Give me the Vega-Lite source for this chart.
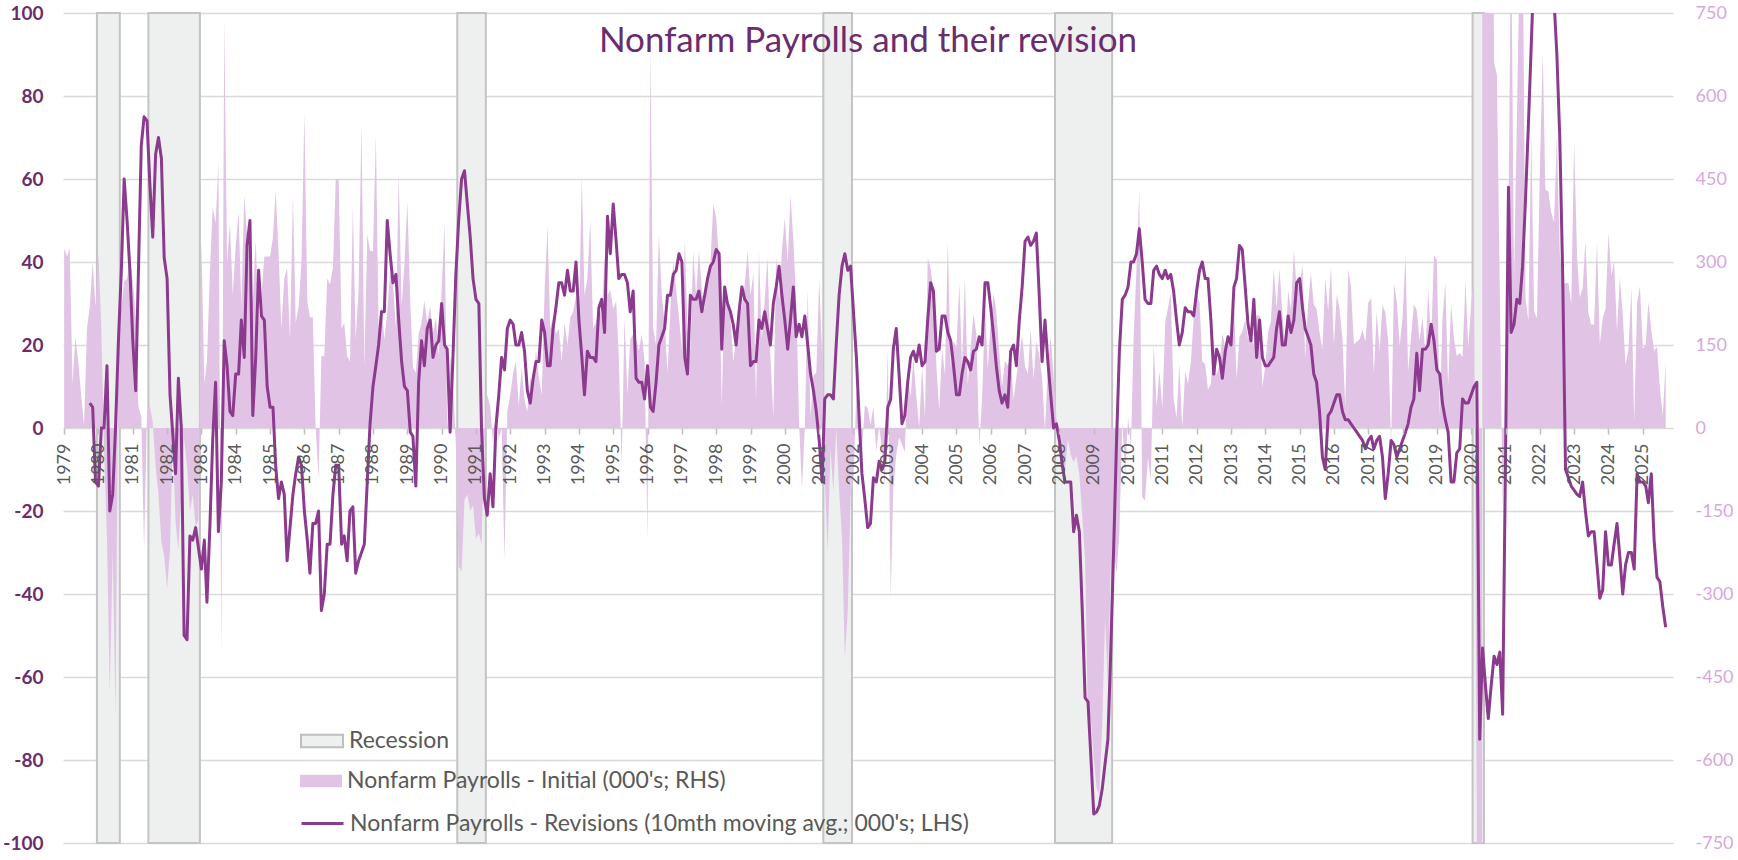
{
  "$schema": "https://vega.github.io/schema/vega-lite/v6.json",
  "width": 1610,
  "height": 830,
  "autosize": {"type": "none"},
  "padding": {"left": 63, "top": 13, "right": 65, "bottom": 17},
  "background": "white",
  "datasets": {
    "recessions": [
      {"start": "1979-12-16", "end": "1980-08-16"},
      {"start": "1981-06-16", "end": "1982-12-16"},
      {"start": "1990-06-16", "end": "1991-04-16"},
      {"start": "2001-02-14", "end": "2001-12-16"},
      {"start": "2007-11-16", "end": "2009-07-16"},
      {"start": "2020-01-16", "end": "2020-05-16"}
    ],
    "titles": [
      {"label": "Nonfarm Payrolls and their revision"}
    ],
    "nfp": [
      {"date":"1979-01-01","initial":325,"revision":null},
      {"date":"1979-02-01","initial":310,"revision":null},
      {"date":"1979-03-01","initial":325,"revision":null},
      {"date":"1979-04-01","initial":80,"revision":null},
      {"date":"1979-05-01","initial":165,"revision":null},
      {"date":"1979-06-01","initial":120,"revision":null},
      {"date":"1979-07-01","initial":60,"revision":null},
      {"date":"1979-08-01","initial":5,"revision":null},
      {"date":"1979-09-01","initial":180,"revision":null},
      {"date":"1979-10-01","initial":220,"revision":6},
      {"date":"1979-11-01","initial":300,"revision":5},
      {"date":"1979-12-01","initial":220,"revision":-13},
      {"date":"1980-01-01","initial":315,"revision":-14},
      {"date":"1980-02-01","initial":180,"revision":0},
      {"date":"1980-03-01","initial":-40,"revision":0},
      {"date":"1980-04-01","initial":-200,"revision":15},
      {"date":"1980-05-01","initial":-480,"revision":-20},
      {"date":"1980-06-01","initial":-220,"revision":-16},
      {"date":"1980-07-01","initial":-520,"revision":0},
      {"date":"1980-08-01","initial":160,"revision":21},
      {"date":"1980-09-01","initial":220,"revision":38},
      {"date":"1980-10-01","initial":265,"revision":60},
      {"date":"1980-11-01","initial":270,"revision":50},
      {"date":"1980-12-01","initial":310,"revision":38},
      {"date":"1981-01-01","initial":265,"revision":21},
      {"date":"1981-02-01","initial":200,"revision":9},
      {"date":"1981-03-01","initial":40,"revision":37},
      {"date":"1981-04-01","initial":20,"revision":68},
      {"date":"1981-05-01","initial":-220,"revision":75},
      {"date":"1981-06-01","initial":30,"revision":74},
      {"date":"1981-07-01","initial":40,"revision":59},
      {"date":"1981-08-01","initial":10,"revision":46},
      {"date":"1981-09-01","initial":-70,"revision":66},
      {"date":"1981-10-01","initial":-120,"revision":70},
      {"date":"1981-11-01","initial":-205,"revision":65},
      {"date":"1981-12-01","initial":-230,"revision":41},
      {"date":"1982-01-01","initial":-290,"revision":36},
      {"date":"1982-02-01","initial":-220,"revision":8},
      {"date":"1982-03-01","initial":-20,"revision":-1},
      {"date":"1982-04-01","initial":-170,"revision":-11},
      {"date":"1982-05-01","initial":-220,"revision":12},
      {"date":"1982-06-01","initial":-120,"revision":0},
      {"date":"1982-07-01","initial":-20,"revision":-50},
      {"date":"1982-08-01","initial":-70,"revision":-51},
      {"date":"1982-09-01","initial":-150,"revision":-26},
      {"date":"1982-10-01","initial":-120,"revision":-27},
      {"date":"1982-11-01","initial":-180,"revision":-24},
      {"date":"1982-12-01","initial":-165,"revision":-29},
      {"date":"1983-01-01","initial":340,"revision":-34},
      {"date":"1983-02-01","initial":80,"revision":-27},
      {"date":"1983-03-01","initial":120,"revision":-42},
      {"date":"1983-04-01","initial":280,"revision":-24},
      {"date":"1983-05-01","initial":400,"revision":-3},
      {"date":"1983-06-01","initial":370,"revision":11},
      {"date":"1983-07-01","initial":480,"revision":-25},
      {"date":"1983-08-01","initial":-415,"revision":-13},
      {"date":"1983-09-01","initial":740,"revision":21},
      {"date":"1983-10-01","initial":300,"revision":15},
      {"date":"1983-11-01","initial":370,"revision":4},
      {"date":"1983-12-01","initial":240,"revision":3},
      {"date":"1984-01-01","initial":330,"revision":13},
      {"date":"1984-02-01","initial":390,"revision":13},
      {"date":"1984-03-01","initial":220,"revision":26},
      {"date":"1984-04-01","initial":420,"revision":17},
      {"date":"1984-05-01","initial":350,"revision":44},
      {"date":"1984-06-01","initial":280,"revision":50},
      {"date":"1984-07-01","initial":230,"revision":3},
      {"date":"1984-08-01","initial":340,"revision":17},
      {"date":"1984-09-01","initial":190,"revision":38},
      {"date":"1984-10-01","initial":240,"revision":27},
      {"date":"1984-11-01","initial":310,"revision":26},
      {"date":"1984-12-01","initial":310,"revision":10},
      {"date":"1985-01-01","initial":310,"revision":5},
      {"date":"1985-02-01","initial":345,"revision":5},
      {"date":"1985-03-01","initial":430,"revision":-9},
      {"date":"1985-04-01","initial":320,"revision":-17},
      {"date":"1985-05-01","initial":180,"revision":-13},
      {"date":"1985-06-01","initial":270,"revision":-16},
      {"date":"1985-07-01","initial":290,"revision":-32},
      {"date":"1985-08-01","initial":160,"revision":-24},
      {"date":"1985-09-01","initial":420,"revision":-16},
      {"date":"1985-10-01","initial":190,"revision":-11},
      {"date":"1985-11-01","initial":220,"revision":-7},
      {"date":"1985-12-01","initial":300,"revision":-9},
      {"date":"1986-01-01","initial":570,"revision":-20},
      {"date":"1986-02-01","initial":230,"revision":-27},
      {"date":"1986-03-01","initial":200,"revision":-35},
      {"date":"1986-04-01","initial":200,"revision":-23},
      {"date":"1986-05-01","initial":0,"revision":-23},
      {"date":"1986-06-01","initial":-90,"revision":-20},
      {"date":"1986-07-01","initial":130,"revision":-44},
      {"date":"1986-08-01","initial":130,"revision":-40},
      {"date":"1986-09-01","initial":270,"revision":-28},
      {"date":"1986-10-01","initial":260,"revision":-28},
      {"date":"1986-11-01","initial":290,"revision":-16},
      {"date":"1986-12-01","initial":450,"revision":-9},
      {"date":"1987-01-01","initial":450,"revision":-9},
      {"date":"1987-02-01","initial":180,"revision":-28},
      {"date":"1987-03-01","initial":190,"revision":-26},
      {"date":"1987-04-01","initial":130,"revision":-32},
      {"date":"1987-05-01","initial":120,"revision":-20},
      {"date":"1987-06-01","initial":400,"revision":-19},
      {"date":"1987-07-01","initial":160,"revision":-35},
      {"date":"1987-08-01","initial":250,"revision":-32},
      {"date":"1987-09-01","initial":550,"revision":-30},
      {"date":"1987-10-01","initial":110,"revision":-28},
      {"date":"1987-11-01","initial":350,"revision":-13},
      {"date":"1987-12-01","initial":320,"revision":1},
      {"date":"1988-01-01","initial":320,"revision":10},
      {"date":"1988-02-01","initial":530,"revision":15},
      {"date":"1988-03-01","initial":180,"revision":20},
      {"date":"1988-04-01","initial":220,"revision":28},
      {"date":"1988-05-01","initial":160,"revision":28},
      {"date":"1988-06-01","initial":210,"revision":50},
      {"date":"1988-07-01","initial":280,"revision":42},
      {"date":"1988-08-01","initial":260,"revision":35},
      {"date":"1988-09-01","initial":180,"revision":37},
      {"date":"1988-10-01","initial":460,"revision":26},
      {"date":"1988-11-01","initial":220,"revision":16},
      {"date":"1988-12-01","initial":300,"revision":10},
      {"date":"1989-01-01","initial":410,"revision":9},
      {"date":"1989-02-01","initial":230,"revision":-1},
      {"date":"1989-03-01","initial":110,"revision":-2},
      {"date":"1989-04-01","initial":100,"revision":-14},
      {"date":"1989-05-01","initial":170,"revision":11},
      {"date":"1989-06-01","initial":190,"revision":21},
      {"date":"1989-07-01","initial":230,"revision":15},
      {"date":"1989-08-01","initial":190,"revision":24},
      {"date":"1989-09-01","initial":220,"revision":26},
      {"date":"1989-10-01","initial":170,"revision":17},
      {"date":"1989-11-01","initial":200,"revision":20},
      {"date":"1989-12-01","initial":130,"revision":21},
      {"date":"1990-01-01","initial":250,"revision":30},
      {"date":"1990-02-01","initial":370,"revision":20},
      {"date":"1990-03-01","initial":0,"revision":19},
      {"date":"1990-04-01","initial":130,"revision":-1},
      {"date":"1990-05-01","initial":80,"revision":17},
      {"date":"1990-06-01","initial":-30,"revision":37},
      {"date":"1990-07-01","initial":-250,"revision":50},
      {"date":"1990-08-01","initial":-260,"revision":60},
      {"date":"1990-09-01","initial":-130,"revision":62},
      {"date":"1990-10-01","initial":-120,"revision":54},
      {"date":"1990-11-01","initial":-150,"revision":46},
      {"date":"1990-12-01","initial":-140,"revision":36},
      {"date":"1991-01-01","initial":-200,"revision":31},
      {"date":"1991-02-01","initial":-190,"revision":30},
      {"date":"1991-03-01","initial":-210,"revision":0},
      {"date":"1991-04-01","initial":-30,"revision":-17},
      {"date":"1991-05-01","initial":60,"revision":-21},
      {"date":"1991-06-01","initial":40,"revision":-11},
      {"date":"1991-07-01","initial":-30,"revision":-19},
      {"date":"1991-08-01","initial":30,"revision":0},
      {"date":"1991-09-01","initial":-20,"revision":8},
      {"date":"1991-10-01","initial":0,"revision":17},
      {"date":"1991-11-01","initial":-240,"revision":14},
      {"date":"1991-12-01","initial":30,"revision":24},
      {"date":"1992-01-01","initial":60,"revision":26},
      {"date":"1992-02-01","initial":100,"revision":25},
      {"date":"1992-03-01","initial":120,"revision":20},
      {"date":"1992-04-01","initial":40,"revision":20},
      {"date":"1992-05-01","initial":110,"revision":23},
      {"date":"1992-06-01","initial":50,"revision":18.5},
      {"date":"1992-07-01","initial":30,"revision":9},
      {"date":"1992-08-01","initial":90,"revision":6},
      {"date":"1992-09-01","initial":80,"revision":12},
      {"date":"1992-10-01","initial":140,"revision":16},
      {"date":"1992-11-01","initial":90,"revision":16},
      {"date":"1992-12-01","initial":60,"revision":26},
      {"date":"1993-01-01","initial":250,"revision":23},
      {"date":"1993-02-01","initial":365,"revision":15},
      {"date":"1993-03-01","initial":180,"revision":15},
      {"date":"1993-04-01","initial":200,"revision":24},
      {"date":"1993-05-01","initial":170,"revision":29},
      {"date":"1993-06-01","initial":180,"revision":35},
      {"date":"1993-07-01","initial":120,"revision":35},
      {"date":"1993-08-01","initial":190,"revision":32},
      {"date":"1993-09-01","initial":150,"revision":38},
      {"date":"1993-10-01","initial":200,"revision":33},
      {"date":"1993-11-01","initial":210,"revision":33},
      {"date":"1993-12-01","initial":240,"revision":40},
      {"date":"1994-01-01","initial":190,"revision":26},
      {"date":"1994-02-01","initial":455,"revision":17},
      {"date":"1994-03-01","initial":240,"revision":8},
      {"date":"1994-04-01","initial":270,"revision":18.5},
      {"date":"1994-05-01","initial":375,"revision":17},
      {"date":"1994-06-01","initial":180,"revision":17},
      {"date":"1994-07-01","initial":190,"revision":16},
      {"date":"1994-08-01","initial":220,"revision":29},
      {"date":"1994-09-01","initial":200,"revision":31},
      {"date":"1994-10-01","initial":310,"revision":23},
      {"date":"1994-11-01","initial":240,"revision":51},
      {"date":"1994-12-01","initial":250,"revision":42},
      {"date":"1995-01-01","initial":215,"revision":54},
      {"date":"1995-02-01","initial":230,"revision":45},
      {"date":"1995-03-01","initial":130,"revision":36},
      {"date":"1995-04-01","initial":-70,"revision":37},
      {"date":"1995-05-01","initial":200,"revision":37},
      {"date":"1995-06-01","initial":60,"revision":35},
      {"date":"1995-07-01","initial":160,"revision":28},
      {"date":"1995-08-01","initial":170,"revision":33},
      {"date":"1995-09-01","initial":160,"revision":12},
      {"date":"1995-10-01","initial":140,"revision":11},
      {"date":"1995-11-01","initial":170,"revision":11},
      {"date":"1995-12-01","initial":120,"revision":7},
      {"date":"1996-01-01","initial":-205,"revision":15},
      {"date":"1996-02-01","initial":690,"revision":5},
      {"date":"1996-03-01","initial":180,"revision":4},
      {"date":"1996-04-01","initial":150,"revision":11},
      {"date":"1996-05-01","initial":350,"revision":20},
      {"date":"1996-06-01","initial":240,"revision":22},
      {"date":"1996-07-01","initial":190,"revision":24},
      {"date":"1996-08-01","initial":100,"revision":32},
      {"date":"1996-09-01","initial":220,"revision":32},
      {"date":"1996-10-01","initial":300,"revision":37},
      {"date":"1996-11-01","initial":250,"revision":38},
      {"date":"1996-12-01","initial":200,"revision":42},
      {"date":"1997-01-01","initial":140,"revision":40},
      {"date":"1997-02-01","initial":340,"revision":17},
      {"date":"1997-03-01","initial":180,"revision":13},
      {"date":"1997-04-01","initial":140,"revision":32},
      {"date":"1997-05-01","initial":320,"revision":31},
      {"date":"1997-06-01","initial":240,"revision":31},
      {"date":"1997-07-01","initial":320,"revision":33},
      {"date":"1997-08-01","initial":250,"revision":28},
      {"date":"1997-09-01","initial":215,"revision":32},
      {"date":"1997-10-01","initial":280,"revision":36},
      {"date":"1997-11-01","initial":300,"revision":39},
      {"date":"1997-12-01","initial":405,"revision":40},
      {"date":"1998-01-01","initial":380,"revision":43},
      {"date":"1998-02-01","initial":300,"revision":42},
      {"date":"1998-03-01","initial":40,"revision":19},
      {"date":"1998-04-01","initial":260,"revision":34},
      {"date":"1998-05-01","initial":220,"revision":30},
      {"date":"1998-06-01","initial":200,"revision":28},
      {"date":"1998-07-01","initial":120,"revision":25},
      {"date":"1998-08-01","initial":160,"revision":20},
      {"date":"1998-09-01","initial":200,"revision":28},
      {"date":"1998-10-01","initial":220,"revision":34},
      {"date":"1998-11-01","initial":260,"revision":31},
      {"date":"1998-12-01","initial":320,"revision":30},
      {"date":"1999-01-01","initial":240,"revision":15},
      {"date":"1999-02-01","initial":280,"revision":16},
      {"date":"1999-03-01","initial":50,"revision":16},
      {"date":"1999-04-01","initial":320,"revision":26},
      {"date":"1999-05-01","initial":160,"revision":24},
      {"date":"1999-06-01","initial":230,"revision":28},
      {"date":"1999-07-01","initial":310,"revision":24},
      {"date":"1999-08-01","initial":130,"revision":20},
      {"date":"1999-09-01","initial":20,"revision":30},
      {"date":"1999-10-01","initial":310,"revision":34},
      {"date":"1999-11-01","initial":230,"revision":39},
      {"date":"1999-12-01","initial":320,"revision":32},
      {"date":"2000-01-01","initial":380,"revision":26},
      {"date":"2000-02-01","initial":300,"revision":19},
      {"date":"2000-03-01","initial":420,"revision":26},
      {"date":"2000-04-01","initial":340,"revision":34},
      {"date":"2000-05-01","initial":230,"revision":22},
      {"date":"2000-06-01","initial":10,"revision":25},
      {"date":"2000-07-01","initial":-110,"revision":22},
      {"date":"2000-08-01","initial":0,"revision":27},
      {"date":"2000-09-01","initial":250,"revision":20},
      {"date":"2000-10-01","initial":20,"revision":13},
      {"date":"2000-11-01","initial":95,"revision":9},
      {"date":"2000-12-01","initial":100,"revision":4},
      {"date":"2001-01-01","initial":268,"revision":-3},
      {"date":"2001-02-01","initial":135,"revision":-13},
      {"date":"2001-03-01","initial":-86,"revision":7},
      {"date":"2001-04-01","initial":-223,"revision":8},
      {"date":"2001-05-01","initial":-39,"revision":8},
      {"date":"2001-06-01","initial":-114,"revision":7},
      {"date":"2001-07-01","initial":-1,"revision":20},
      {"date":"2001-08-01","initial":-113,"revision":32},
      {"date":"2001-09-01","initial":-199,"revision":39},
      {"date":"2001-10-01","initial":-415,"revision":42},
      {"date":"2001-11-01","initial":-331,"revision":38},
      {"date":"2001-12-01","initial":-124,"revision":39},
      {"date":"2002-01-01","initial":-89,"revision":28},
      {"date":"2002-02-01","initial":66,"revision":17},
      {"date":"2002-03-01","initial":58,"revision":3},
      {"date":"2002-04-01","initial":-43,"revision":-11},
      {"date":"2002-05-01","initial":41,"revision":-17},
      {"date":"2002-06-01","initial":36,"revision":-24},
      {"date":"2002-07-01","initial":6,"revision":-23},
      {"date":"2002-08-01","initial":39,"revision":-12},
      {"date":"2002-09-01","initial":-43,"revision":-13},
      {"date":"2002-10-01","initial":5,"revision":-8},
      {"date":"2002-11-01","initial":-40,"revision":-10},
      {"date":"2002-12-01","initial":-101,"revision":-8},
      {"date":"2003-01-01","initial":143,"revision":5},
      {"date":"2003-02-01","initial":-308,"revision":7},
      {"date":"2003-03-01","initial":-108,"revision":19},
      {"date":"2003-04-01","initial":-48,"revision":24},
      {"date":"2003-05-01","initial":-17,"revision":13},
      {"date":"2003-06-01","initial":-30,"revision":1},
      {"date":"2003-07-01","initial":-44,"revision":3},
      {"date":"2003-08-01","initial":93,"revision":11},
      {"date":"2003-09-01","initial":57,"revision":17},
      {"date":"2003-10-01","initial":126,"revision":18.5},
      {"date":"2003-11-01","initial":57,"revision":16},
      {"date":"2003-12-01","initial":1,"revision":20},
      {"date":"2004-01-01","initial":112,"revision":15},
      {"date":"2004-02-01","initial":21,"revision":16},
      {"date":"2004-03-01","initial":308,"revision":26},
      {"date":"2004-04-01","initial":288,"revision":35},
      {"date":"2004-05-01","initial":248,"revision":33},
      {"date":"2004-06-01","initial":112,"revision":18.5},
      {"date":"2004-07-01","initial":32,"revision":19},
      {"date":"2004-08-01","initial":144,"revision":27},
      {"date":"2004-09-01","initial":96,"revision":27},
      {"date":"2004-10-01","initial":337,"revision":23},
      {"date":"2004-11-01","initial":112,"revision":21},
      {"date":"2004-12-01","initial":157,"revision":15},
      {"date":"2005-01-01","initial":146,"revision":8},
      {"date":"2005-02-01","initial":262,"revision":8},
      {"date":"2005-03-01","initial":110,"revision":13},
      {"date":"2005-04-01","initial":274,"revision":17},
      {"date":"2005-05-01","initial":78,"revision":16},
      {"date":"2005-06-01","initial":146,"revision":14},
      {"date":"2005-07-01","initial":207,"revision":18.5},
      {"date":"2005-08-01","initial":169,"revision":19},
      {"date":"2005-09-01","initial":-35,"revision":22},
      {"date":"2005-10-01","initial":56,"revision":20},
      {"date":"2005-11-01","initial":215,"revision":35},
      {"date":"2005-12-01","initial":108,"revision":35},
      {"date":"2006-01-01","initial":193,"revision":29},
      {"date":"2006-02-01","initial":243,"revision":22},
      {"date":"2006-03-01","initial":211,"revision":15},
      {"date":"2006-04-01","initial":138,"revision":9},
      {"date":"2006-05-01","initial":75,"revision":6},
      {"date":"2006-06-01","initial":121,"revision":8},
      {"date":"2006-07-01","initial":113,"revision":5},
      {"date":"2006-08-01","initial":128,"revision":18.5},
      {"date":"2006-09-01","initial":51,"revision":20},
      {"date":"2006-10-01","initial":92,"revision":15},
      {"date":"2006-11-01","initial":132,"revision":26},
      {"date":"2006-12-01","initial":167,"revision":34},
      {"date":"2007-01-01","initial":111,"revision":45},
      {"date":"2007-02-01","initial":97,"revision":46},
      {"date":"2007-03-01","initial":180,"revision":44},
      {"date":"2007-04-01","initial":88,"revision":45},
      {"date":"2007-05-01","initial":157,"revision":47},
      {"date":"2007-06-01","initial":132,"revision":32},
      {"date":"2007-07-01","initial":92,"revision":16},
      {"date":"2007-08-01","initial":-4,"revision":26},
      {"date":"2007-09-01","initial":110,"revision":16},
      {"date":"2007-10-01","initial":166,"revision":8},
      {"date":"2007-11-01","initial":94,"revision":0},
      {"date":"2007-12-01","initial":18,"revision":1},
      {"date":"2008-01-01","initial":-17,"revision":-3},
      {"date":"2008-02-01","initial":-63,"revision":-9},
      {"date":"2008-03-01","initial":-80,"revision":-13},
      {"date":"2008-04-01","initial":-20,"revision":-13},
      {"date":"2008-05-01","initial":-49,"revision":-13},
      {"date":"2008-06-01","initial":-62,"revision":-25},
      {"date":"2008-07-01","initial":-51,"revision":-21},
      {"date":"2008-08-01","initial":-84,"revision":-25},
      {"date":"2008-09-01","initial":-159,"revision":-44},
      {"date":"2008-10-01","initial":-240,"revision":-65},
      {"date":"2008-11-01","initial":-533,"revision":-66},
      {"date":"2008-12-01","initial":-524,"revision":-79},
      {"date":"2009-01-01","initial":-598,"revision":-93},
      {"date":"2009-02-01","initial":-651,"revision":-92.5},
      {"date":"2009-03-01","initial":-663,"revision":-91},
      {"date":"2009-04-01","initial":-539,"revision":-87},
      {"date":"2009-05-01","initial":-345,"revision":-81},
      {"date":"2009-06-01","initial":-467,"revision":-75},
      {"date":"2009-07-01","initial":-247,"revision":-54},
      {"date":"2009-08-01","initial":-216,"revision":-29},
      {"date":"2009-09-01","initial":-263,"revision":-3},
      {"date":"2009-10-01","initial":-190,"revision":18.5},
      {"date":"2009-11-01","initial":11,"revision":31},
      {"date":"2009-12-01","initial":-85,"revision":32},
      {"date":"2010-01-01","initial":20,"revision":34},
      {"date":"2010-02-01","initial":-36,"revision":40},
      {"date":"2010-03-01","initial":162,"revision":40},
      {"date":"2010-04-01","initial":290,"revision":42},
      {"date":"2010-05-01","initial":431,"revision":48},
      {"date":"2010-06-01","initial":-125,"revision":40},
      {"date":"2010-07-01","initial":-131,"revision":31},
      {"date":"2010-08-01","initial":-54,"revision":30},
      {"date":"2010-09-01","initial":-95,"revision":30},
      {"date":"2010-10-01","initial":151,"revision":38},
      {"date":"2010-11-01","initial":39,"revision":39},
      {"date":"2010-12-01","initial":103,"revision":37},
      {"date":"2011-01-01","initial":36,"revision":36},
      {"date":"2011-02-01","initial":192,"revision":38},
      {"date":"2011-03-01","initial":216,"revision":36},
      {"date":"2011-04-01","initial":244,"revision":37},
      {"date":"2011-05-01","initial":54,"revision":33},
      {"date":"2011-06-01","initial":18,"revision":26},
      {"date":"2011-07-01","initial":117,"revision":20},
      {"date":"2011-08-01","initial":0,"revision":23},
      {"date":"2011-09-01","initial":103,"revision":29},
      {"date":"2011-10-01","initial":80,"revision":28},
      {"date":"2011-11-01","initial":120,"revision":28},
      {"date":"2011-12-01","initial":200,"revision":27},
      {"date":"2012-01-01","initial":243,"revision":33},
      {"date":"2012-02-01","initial":227,"revision":38},
      {"date":"2012-03-01","initial":120,"revision":40},
      {"date":"2012-04-01","initial":115,"revision":36},
      {"date":"2012-05-01","initial":69,"revision":36},
      {"date":"2012-06-01","initial":80,"revision":26},
      {"date":"2012-07-01","initial":163,"revision":13},
      {"date":"2012-08-01","initial":96,"revision":19},
      {"date":"2012-09-01","initial":114,"revision":17},
      {"date":"2012-10-01","initial":171,"revision":12},
      {"date":"2012-11-01","initial":146,"revision":18.5},
      {"date":"2012-12-01","initial":155,"revision":22},
      {"date":"2013-01-01","initial":157,"revision":20},
      {"date":"2013-02-01","initial":236,"revision":34},
      {"date":"2013-03-01","initial":88,"revision":36},
      {"date":"2013-04-01","initial":165,"revision":44},
      {"date":"2013-05-01","initial":175,"revision":43},
      {"date":"2013-06-01","initial":195,"revision":34},
      {"date":"2013-07-01","initial":162,"revision":25},
      {"date":"2013-08-01","initial":169,"revision":21},
      {"date":"2013-09-01","initial":148,"revision":31},
      {"date":"2013-10-01","initial":204,"revision":17},
      {"date":"2013-11-01","initial":203,"revision":26},
      {"date":"2013-12-01","initial":74,"revision":17},
      {"date":"2014-01-01","initial":113,"revision":15},
      {"date":"2014-02-01","initial":175,"revision":15},
      {"date":"2014-03-01","initial":192,"revision":16},
      {"date":"2014-04-01","initial":288,"revision":17},
      {"date":"2014-05-01","initial":217,"revision":24},
      {"date":"2014-06-01","initial":288,"revision":28},
      {"date":"2014-07-01","initial":209,"revision":20},
      {"date":"2014-08-01","initial":142,"revision":20},
      {"date":"2014-09-01","initial":248,"revision":27},
      {"date":"2014-10-01","initial":214,"revision":23},
      {"date":"2014-11-01","initial":321,"revision":26},
      {"date":"2014-12-01","initial":252,"revision":35},
      {"date":"2015-01-01","initial":257,"revision":36},
      {"date":"2015-02-01","initial":295,"revision":29},
      {"date":"2015-03-01","initial":126,"revision":24},
      {"date":"2015-04-01","initial":223,"revision":22},
      {"date":"2015-05-01","initial":280,"revision":20},
      {"date":"2015-06-01","initial":223,"revision":13},
      {"date":"2015-07-01","initial":215,"revision":11},
      {"date":"2015-08-01","initial":173,"revision":4},
      {"date":"2015-09-01","initial":142,"revision":-7},
      {"date":"2015-10-01","initial":271,"revision":-10},
      {"date":"2015-11-01","initial":211,"revision":3},
      {"date":"2015-12-01","initial":292,"revision":4},
      {"date":"2016-01-01","initial":151,"revision":6},
      {"date":"2016-02-01","initial":242,"revision":8},
      {"date":"2016-03-01","initial":215,"revision":8},
      {"date":"2016-04-01","initial":160,"revision":4},
      {"date":"2016-05-01","initial":38,"revision":2},
      {"date":"2016-06-01","initial":287,"revision":2},
      {"date":"2016-07-01","initial":255,"revision":1},
      {"date":"2016-08-01","initial":151,"revision":0},
      {"date":"2016-09-01","initial":156,"revision":-1},
      {"date":"2016-10-01","initial":161,"revision":-2},
      {"date":"2016-11-01","initial":178,"revision":-3},
      {"date":"2016-12-01","initial":156,"revision":-5},
      {"date":"2017-01-01","initial":227,"revision":-3},
      {"date":"2017-02-01","initial":235,"revision":-2},
      {"date":"2017-03-01","initial":98,"revision":-5},
      {"date":"2017-04-01","initial":211,"revision":-3},
      {"date":"2017-05-01","initial":138,"revision":-2},
      {"date":"2017-06-01","initial":222,"revision":-7},
      {"date":"2017-07-01","initial":209,"revision":-17},
      {"date":"2017-08-01","initial":156,"revision":-11},
      {"date":"2017-09-01","initial":-33,"revision":-3},
      {"date":"2017-10-01","initial":261,"revision":-4},
      {"date":"2017-11-01","initial":228,"revision":-7},
      {"date":"2017-12-01","initial":148,"revision":-5},
      {"date":"2018-01-01","initial":200,"revision":-3},
      {"date":"2018-02-01","initial":313,"revision":-1},
      {"date":"2018-03-01","initial":103,"revision":1},
      {"date":"2018-04-01","initial":164,"revision":5},
      {"date":"2018-05-01","initial":223,"revision":7},
      {"date":"2018-06-01","initial":213,"revision":18},
      {"date":"2018-07-01","initial":157,"revision":9},
      {"date":"2018-08-01","initial":201,"revision":19},
      {"date":"2018-09-01","initial":134,"revision":19},
      {"date":"2018-10-01","initial":250,"revision":20},
      {"date":"2018-11-01","initial":155,"revision":25},
      {"date":"2018-12-01","initial":312,"revision":21},
      {"date":"2019-01-01","initial":304,"revision":14},
      {"date":"2019-02-01","initial":20,"revision":13},
      {"date":"2019-03-01","initial":196,"revision":6},
      {"date":"2019-04-01","initial":263,"revision":2},
      {"date":"2019-05-01","initial":75,"revision":-1},
      {"date":"2019-06-01","initial":224,"revision":-13},
      {"date":"2019-07-01","initial":164,"revision":-13},
      {"date":"2019-08-01","initial":130,"revision":-6},
      {"date":"2019-09-01","initial":136,"revision":-5},
      {"date":"2019-10-01","initial":128,"revision":7},
      {"date":"2019-11-01","initial":266,"revision":6},
      {"date":"2019-12-01","initial":145,"revision":6},
      {"date":"2020-01-01","initial":225,"revision":8},
      {"date":"2020-02-01","initial":273,"revision":10},
      {"date":"2020-03-01","initial":-701,"revision":11},
      {"date":"2020-04-01","initial":-20500,"revision":-75},
      {"date":"2020-05-01","initial":2509,"revision":-53},
      {"date":"2020-06-01","initial":4800,"revision":-62},
      {"date":"2020-07-01","initial":1763,"revision":-70},
      {"date":"2020-08-01","initial":1371,"revision":-62},
      {"date":"2020-09-01","initial":661,"revision":-55},
      {"date":"2020-10-01","initial":638,"revision":-57},
      {"date":"2020-11-01","initial":245,"revision":-54},
      {"date":"2020-12-01","initial":-140,"revision":-69},
      {"date":"2021-01-01","initial":49,"revision":-6},
      {"date":"2021-02-01","initial":379,"revision":58},
      {"date":"2021-03-01","initial":916,"revision":23},
      {"date":"2021-04-01","initial":266,"revision":25},
      {"date":"2021-05-01","initial":559,"revision":31},
      {"date":"2021-06-01","initial":850,"revision":30},
      {"date":"2021-07-01","initial":943,"revision":39},
      {"date":"2021-08-01","initial":235,"revision":55},
      {"date":"2021-09-01","initial":194,"revision":73},
      {"date":"2021-10-01","initial":531,"revision":92},
      {"date":"2021-11-01","initial":210,"revision":112},
      {"date":"2021-12-01","initial":199,"revision":130},
      {"date":"2022-01-01","initial":467,"revision":140},
      {"date":"2022-02-01","initial":678,"revision":145},
      {"date":"2022-03-01","initial":431,"revision":140},
      {"date":"2022-04-01","initial":428,"revision":132},
      {"date":"2022-05-01","initial":390,"revision":120},
      {"date":"2022-06-01","initial":372,"revision":103},
      {"date":"2022-07-01","initial":528,"revision":90},
      {"date":"2022-08-01","initial":315,"revision":70},
      {"date":"2022-09-01","initial":263,"revision":37},
      {"date":"2022-10-01","initial":261,"revision":-10},
      {"date":"2022-11-01","initial":263,"revision":-12},
      {"date":"2022-12-01","initial":223,"revision":-14},
      {"date":"2023-01-01","initial":517,"revision":-15},
      {"date":"2023-02-01","initial":311,"revision":-16},
      {"date":"2023-03-01","initial":236,"revision":-16.5},
      {"date":"2023-04-01","initial":253,"revision":-13},
      {"date":"2023-05-01","initial":339,"revision":-20},
      {"date":"2023-06-01","initial":209,"revision":-26},
      {"date":"2023-07-01","initial":187,"revision":-25},
      {"date":"2023-08-01","initial":187,"revision":-25},
      {"date":"2023-09-01","initial":336,"revision":-33},
      {"date":"2023-10-01","initial":150,"revision":-41},
      {"date":"2023-11-01","initial":199,"revision":-39},
      {"date":"2023-12-01","initial":216,"revision":-25},
      {"date":"2024-01-01","initial":353,"revision":-33},
      {"date":"2024-02-01","initial":275,"revision":-33},
      {"date":"2024-03-01","initial":303,"revision":-28},
      {"date":"2024-04-01","initial":175,"revision":-23},
      {"date":"2024-05-01","initial":272,"revision":-31},
      {"date":"2024-06-01","initial":206,"revision":-40},
      {"date":"2024-07-01","initial":114,"revision":-33},
      {"date":"2024-08-01","initial":142,"revision":-30},
      {"date":"2024-09-01","initial":254,"revision":-30},
      {"date":"2024-10-01","initial":12,"revision":-34},
      {"date":"2024-11-01","initial":227,"revision":-11},
      {"date":"2024-12-01","initial":256,"revision":-13},
      {"date":"2025-01-01","initial":143,"revision":-13},
      {"date":"2025-02-01","initial":151,"revision":-14},
      {"date":"2025-03-01","initial":228,"revision":-18},
      {"date":"2025-04-01","initial":177,"revision":-11},
      {"date":"2025-05-01","initial":139,"revision":-27},
      {"date":"2025-06-01","initial":147,"revision":-36},
      {"date":"2025-07-01","initial":73,"revision":-37},
      {"date":"2025-08-01","initial":22,"revision":-43},
      {"date":"2025-09-01","initial":119,"revision":-48}
    ]
  },
  "layer": [
    {
      "data": {"name": "recessions"},
      "mark": {"type": "rect", "stroke": "#c4c4c4", "strokeWidth": 2},
      "encoding": {
        "x": {
          "field": "start",
          "type": "temporal",
          "title": null,
          "scale": {
            "type": "utc",
            "nice": false,
            "domain": [
              {"year": 1978, "month": 12, "date": 20, "utc": true},
              {"year": 2025, "month": 11, "date": 18, "utc": true}
            ]
          },
          "axis": {
            "orient": "bottom",
            "offset": -415,
            "tickCount": {"interval": "year", "step": 1},
            "format": "%Y",
            "formatType": "utc",
            "labelAngle": 270,
            "labelPadding": 9,
            "labelFont": "Lato",
            "labelFontSize": 18,
            "labelColor": "#595959",
            "labelOverlap": false,
            "labelFlush": false,
            "domain": false,
            "grid": false,
            "tickSize": 6,
            "tickColor": "#bfbfbf",
            "tickWidth": 1.5,
            "zindex": 1,
            "title": null
          }
        },
        "x2": {"field": "end"},
        "fill": {
          "datum": "Recession",
          "type": "nominal",
          "scale": {"range": ["#eeefef"]},
          "legend": {
            "orient": "none",
            "legendX": 237,
            "legendY": 706,
            "title": null,
            "padding": 0,
            "labelFont": "Lato",
            "labelFontSize": 23,
            "labelColor": "#595959",
            "labelLimit": 1000,
            "labelOffset": 5,
            "symbolType": "M-1,-0.3H1V0.3H-1Z",
            "symbolSize": 1764,
            "symbolStrokeColor": "#bfbfbf",
            "symbolStrokeWidth": 2,
            "symbolOpacity": 1
          }
        }
      }
    },
    {
      "data": {"name": "nfp"},
      "mark": {"type": "area", "clip": true, "interpolate": "linear"},
      "encoding": {
        "x": {"field": "date", "type": "temporal", "title": null},
        "y": {
          "field": "initial",
          "type": "quantitative",
          "scale": {"domain": [-750, 750], "nice": false},
          "axis": {
            "orient": "right",
            "offset": 19,
            "values": [-750, -600, -450, -300, -150, 0, 150, 300, 450, 600, 750],
            "labelExpr": "'' + datum.value",
            "grid": false,
            "ticks": false,
            "domain": false,
            "labelFont": "Lato",
            "labelFontSize": 18,
            "labelColor": "#d8a8dd",
            "labelPadding": 3,
            "title": null
          }
        },
        "color": {
          "datum": "Nonfarm Payrolls - Initial (000's; RHS)",
          "type": "nominal",
          "scale": {"range": ["#e1c4e5"]},
          "legend": {
            "orient": "none",
            "legendX": 237,
            "legendY": 747,
            "title": null,
            "padding": 0,
            "labelFont": "Lato",
            "labelFontSize": 23,
            "labelColor": "#595959",
            "labelLimit": 1000,
            "labelOffset": 5,
            "symbolType": "M-1,-0.3H1V0.3H-1Z",
            "symbolSize": 1764,
            "symbolStrokeWidth": 0,
            "symbolOpacity": 1
          }
        }
      }
    },
    {
      "data": {"name": "nfp"},
      "mark": {"type": "line", "strokeWidth": 3, "clip": true, "strokeJoin": "round"},
      "encoding": {
        "x": {"field": "date", "type": "temporal", "title": null},
        "y": {
          "field": "revision",
          "type": "quantitative",
          "scale": {"domain": [-100, 100], "nice": false},
          "axis": {
            "orient": "left",
            "values": [-100, -80, -60, -40, -20, 0, 20, 40, 60, 80, 100],
            "labelExpr": "'' + datum.value",
            "grid": true,
            "gridColor": "#d9d9d9",
            "gridWidth": 1.5,
            "ticks": false,
            "domain": false,
            "labelFont": "Lato",
            "labelFontSize": 19,
            "labelFontWeight": "bold",
            "labelColor": "#6b2c6e",
            "labelPadding": 20,
            "title": null
          }
        },
        "stroke": {
          "datum": "Nonfarm Payrolls - Revisions (10mth moving avg.; 000's; LHS)",
          "type": "nominal",
          "scale": {"range": ["#8b3a8e"]},
          "legend": {
            "orient": "none",
            "legendX": 237,
            "legendY": 788,
            "title": null,
            "padding": 0,
            "labelFont": "Lato",
            "labelFontSize": 23,
            "labelColor": "#595959",
            "labelLimit": 1000,
            "labelOffset": 5,
            "symbolType": "stroke",
            "symbolSize": 1764,
            "symbolStrokeWidth": 3,
            "symbolOpacity": 1
          }
        }
      }
    },
    {
      "data": {"name": "titles"},
      "mark": {
        "type": "text",
        "font": "Lato",
        "fontSize": 35,
        "color": "#6b2c6e",
        "align": "center",
        "baseline": "alphabetic"
      },
      "encoding": {
        "x": {"datum": {"year": 2002, "month": 6, "date": 5, "utc": true}, "type": "temporal"},
        "y": {
          "datum": 90.6,
          "type": "quantitative",
          "scale": {"domain": [-100, 100], "nice": false},
          "axis": null
        },
        "text": {"field": "label"}
      }
    }
  ],
  "resolve": {"scale": {"y": "independent"}},
  "config": {
    "font": "Lato",
    "view": {"stroke": null}
  }
}
